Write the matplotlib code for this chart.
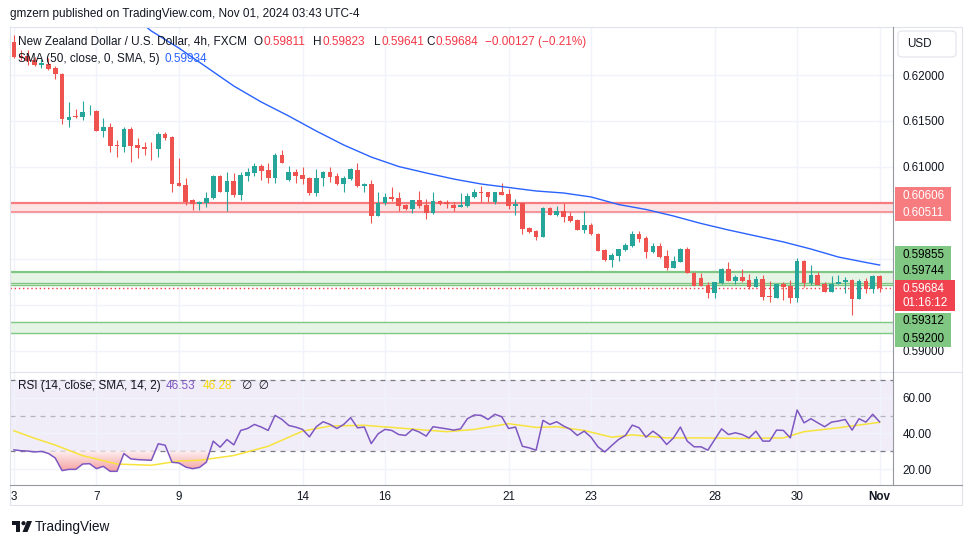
import numpy as np
import matplotlib
matplotlib.use("Agg")
import matplotlib.pyplot as plt
from matplotlib.patches import Rectangle, FancyBboxPatch, Polygon, Circle
from matplotlib.path import Path
from matplotlib.colors import LinearSegmentedColormap

plt.rcParams['font.family'] = ['Liberation Sans', 'DejaVu Sans']

# NZDUSD 4h candles, Oct 3 -> Nov 1 2024
opens = [0.62358, 0.62207, 0.62207, 0.62163, 0.62114, 0.62120, 0.62076, 0.62011, 0.61511, 0.61554,
         0.61538, 0.61609, 0.61609, 0.61394, 0.61431, 0.61239, 0.61220, 0.61413, 0.61239, 0.61220,
         0.61209, 0.61192, 0.61355, 0.61329, 0.60822, 0.60804, 0.60641, 0.60594, 0.60612, 0.60660,
         0.60902, 0.60731, 0.60848, 0.60695, 0.60905, 0.60938, 0.61011, 0.60967, 0.60883, 0.61130,
         0.60858, 0.60942, 0.60913, 0.60877, 0.60714, 0.60877, 0.60942, 0.60905, 0.60815, 0.60866,
         0.60967, 0.60796, 0.60815, 0.60467, 0.60605, 0.60677, 0.60660, 0.60587, 0.60540, 0.60641,
         0.60587, 0.60503, 0.60630, 0.60616, 0.60587, 0.60562, 0.60579, 0.60677, 0.60731, 0.60725,
         0.60616, 0.60725, 0.60706, 0.60579, 0.60605, 0.60340, 0.60304, 0.60242, 0.60557, 0.60478,
         0.60522, 0.60470, 0.60424, 0.60315, 0.60370, 0.60272, 0.60098, 0.59989, 0.60036, 0.60098,
         0.60144, 0.60272, 0.60231, 0.60079, 0.60141, 0.60032, 0.59905, 0.59970, 0.60108, 0.59851,
         0.59790, 0.59717, 0.59634, 0.59742, 0.59888, 0.59764, 0.59801, 0.59771, 0.59699, 0.59779,
         0.59598, 0.59579, 0.59728, 0.59706, 0.59573, 0.59978, 0.59736, 0.59826, 0.59728, 0.59644,
         0.59725, 0.59747, 0.59771, 0.59565, 0.59761, 0.59674, 0.59811]
highs = [0.62435, 0.62272, 0.62272, 0.62196, 0.62174, 0.62185, 0.62098, 0.62022, 0.61706, 0.61630,
         0.61717, 0.61674, 0.61619, 0.61532, 0.61481, 0.61293, 0.61431, 0.61431, 0.61315, 0.61272,
         0.61275, 0.61377, 0.61377, 0.61337, 0.61094, 0.60880, 0.60652, 0.60634, 0.60725, 0.60913,
         0.60913, 0.60949, 0.60931, 0.60949, 0.60989, 0.61040, 0.61029, 0.61040, 0.61149, 0.61185,
         0.61011, 0.60975, 0.60996, 0.60891, 0.60975, 0.60951, 0.60996, 0.60931, 0.60902, 0.60986,
         0.61046, 0.60829, 0.60858, 0.60731, 0.60714, 0.60786, 0.60731, 0.60598, 0.60641, 0.60742,
         0.60649, 0.60725, 0.60636, 0.60641, 0.60616, 0.60714, 0.60714, 0.60757, 0.60796, 0.60728,
         0.60731, 0.60822, 0.60757, 0.60649, 0.60609, 0.60351, 0.60315, 0.60568, 0.60560, 0.60576,
         0.60605, 0.60514, 0.60429, 0.60522, 0.60388, 0.60277, 0.60108, 0.60068, 0.60108, 0.60170,
         0.60304, 0.60307, 0.60250, 0.60177, 0.60170, 0.60098, 0.60032, 0.60116, 0.60127, 0.59853,
         0.59851, 0.59753, 0.59750, 0.59899, 0.59970, 0.59826, 0.59888, 0.59833, 0.59815, 0.59826,
         0.59761, 0.59733, 0.59753, 0.59771, 0.60007, 0.59989, 0.59935, 0.59862, 0.59753, 0.59815,
         0.59826, 0.59801, 0.59777, 0.59779, 0.59790, 0.59826, 0.59823]
lows = [0.62185, 0.62163, 0.62109, 0.62098, 0.62076, 0.62054, 0.61956, 0.61467, 0.61435, 0.61532,
        0.61511, 0.61565, 0.61391, 0.61329, 0.61166, 0.61112, 0.61166, 0.61057, 0.61098, 0.61130,
        0.61076, 0.61112, 0.61293, 0.60731, 0.60793, 0.60587, 0.60532, 0.60532, 0.60568, 0.60652,
        0.60723, 0.60525, 0.60677, 0.60641, 0.60851, 0.60905, 0.60858, 0.60829, 0.60829, 0.61040,
        0.60848, 0.60822, 0.60815, 0.60695, 0.60685, 0.60796, 0.60833, 0.60804, 0.60731, 0.60858,
        0.60786, 0.60725, 0.60388, 0.60462, 0.60587, 0.60634, 0.60525, 0.60532, 0.60503, 0.60551,
        0.60435, 0.60489, 0.60587, 0.60557, 0.60525, 0.60560, 0.60568, 0.60660, 0.60623, 0.60623,
        0.60594, 0.60690, 0.60540, 0.60478, 0.60272, 0.60286, 0.60206, 0.60239, 0.60473, 0.60470,
        0.60399, 0.60399, 0.60310, 0.60279, 0.60261, 0.60087, 0.59981, 0.59909, 0.59981, 0.60090,
        0.60133, 0.60181, 0.60014, 0.60062, 0.60008, 0.59880, 0.59902, 0.59967, 0.59842, 0.59706,
        0.59706, 0.59579, 0.59579, 0.59728, 0.59761, 0.59728, 0.59753, 0.59674, 0.59695, 0.59554,
        0.59536, 0.59576, 0.59554, 0.59520, 0.59536, 0.59699, 0.59717, 0.59712, 0.59641, 0.59641,
        0.59723, 0.59634, 0.59391, 0.59560, 0.59634, 0.59634, 0.59641]
closes = [0.62196, 0.62185, 0.62152, 0.62109, 0.62130, 0.62065, 0.62011, 0.61522, 0.61543, 0.61538,
          0.61598, 0.61614, 0.61394, 0.61431, 0.61231, 0.61231, 0.61413, 0.61231, 0.61209, 0.61198,
          0.61203, 0.61355, 0.61318, 0.60815, 0.60796, 0.60623, 0.60594, 0.60623, 0.60660, 0.60902,
          0.60731, 0.60848, 0.60695, 0.60913, 0.60949, 0.61011, 0.60960, 0.60883, 0.61130, 0.61046,
          0.60942, 0.60905, 0.60869, 0.60714, 0.60877, 0.60942, 0.60895, 0.60815, 0.60877, 0.60975,
          0.60793, 0.60815, 0.60467, 0.60612, 0.60677, 0.60652, 0.60576, 0.60540, 0.60641, 0.60579,
          0.60503, 0.60630, 0.60594, 0.60594, 0.60557, 0.60587, 0.60688, 0.60731, 0.60720, 0.60677,
          0.60725, 0.60695, 0.60579, 0.60598, 0.60326, 0.60296, 0.60242, 0.60557, 0.60478, 0.60522,
          0.60460, 0.60416, 0.60315, 0.60370, 0.60268, 0.60090, 0.59989, 0.60043, 0.60108, 0.60152,
          0.60272, 0.60217, 0.60079, 0.60141, 0.60025, 0.59907, 0.59978, 0.60108, 0.59844, 0.59710,
          0.59710, 0.59634, 0.59747, 0.59888, 0.59764, 0.59808, 0.59764, 0.59699, 0.59779, 0.59590,
          0.59590, 0.59728, 0.59699, 0.59573, 0.59978, 0.59736, 0.59826, 0.59717, 0.59644, 0.59728,
          0.59753, 0.59771, 0.59565, 0.59761, 0.59674, 0.59815, 0.59684]

# SMA(50) (candle index, value)
sma_idx = [18, 20, 24, 28, 32, 36, 40, 44, 48, 52, 56, 60, 64, 68, 72, 76, 80, 84, 88,
           92, 96, 100, 104, 108, 112, 116, 120, 124, 126]
sma_vals = [0.62598, 0.62478, 0.62293, 0.62087, 0.61880, 0.61706, 0.61554, 0.61391, 0.61239,
            0.61108, 0.61005, 0.60935, 0.60869, 0.60815, 0.60777, 0.60739, 0.60717, 0.60674,
            0.60592, 0.60538, 0.60467, 0.60386, 0.60315, 0.60250, 0.60185, 0.60108, 0.60021,
            0.59962, 0.59934]

rsi = [30.8, 30.3, 30.1, 29.6, 29.9, 28.8, 26.2, 19.1, 19.8, 19.8,
       22.8, 23.0, 20.2, 21.5, 18.7, 18.7, 28.7, 25.7, 25.3, 25.1,
       24.9, 34.2, 33.4, 23.8, 23.4, 21.1, 20.2, 20.9, 23.8, 35.7,
       32.3, 36.6, 33.6, 41.7, 42.8, 45.1, 43.6, 41.7, 50.2, 47.9,
       44.5, 43.6, 42.3, 38.1, 43.8, 46.6, 45.1, 42.8, 45.1, 48.9,
       43.2, 43.6, 34.3, 39.8, 42.3, 41.7, 39.4, 38.9, 42.3, 40.8,
       38.5, 43.8, 43.2, 42.6, 41.9, 42.6, 48.3, 50.4, 50.2, 47.9,
       50.8, 49.4, 42.8, 43.6, 32.8, 31.9, 30.6, 47.4, 45.1, 46.6,
       44.2, 42.3, 38.9, 41.3, 37.9, 32.5, 29.6, 33.2, 36.6, 38.9,
       44.7, 43.2, 37.9, 41.3, 38.5, 33.8, 37.5, 43.6, 35.7, 32.5,
       32.5, 30.6, 36.6, 42.6, 39.4, 40.4, 39.4, 37.5, 41.3, 35.7,
       35.7, 41.9, 41.7, 37.5, 53.2, 46.0, 48.3, 46.0, 43.8, 46.4,
       47.0, 47.9, 41.9, 48.3, 46.4, 50.8, 46.53]

rsi_sma_idx = [0, 3, 6, 10, 15, 20, 24, 27, 32, 37, 42, 46, 51, 58, 63, 67, 72, 76, 79,
               83, 87, 90, 95, 101, 106, 112, 115, 120, 126]
rsi_sma_vals = [41.5, 37.3, 33.5, 27.5, 22.8, 22.1, 24.5, 24.9, 27.6, 32.8, 41.3, 44.2, 44.6,
                42.5, 41.0, 42.3, 45.5, 43.4, 43.8, 41.7, 37.9, 39.2, 37.5, 37.5, 37.2, 37.5,
                41.0, 43.2, 46.28]

day_ticks = [0, 12, 24, 42, 54, 72, 84, 102, 114, 126]
day_labels = ['3', '7', '9', '14', '16', '21', '23', '28', '30', 'Nov']
price_ticks = [0.590, 0.595, 0.600, 0.605, 0.610, 0.615, 0.620]
# labels hidden behind the price-scale boxes in the original
price_labels = ['0.59000', '', '', '', '0.61000', '0.61500', '0.62000']

resist_zone = (0.60511, 0.60606)
support_zone = (0.59715, 0.59744, 0.59855)
support_zone2 = (0.59200, 0.59312)
last_price = 0.59684

UP = '#26a69a'
DOWN = '#ef5350'
TXT = '#131722'
GRID = '#f0f3fa'

W, H = 970, 545
fig = plt.figure(figsize=(W / 100, H / 100), dpi=100)
fig.patch.set_facecolor('white')

ax = fig.add_axes([10 / W, 1 - 372 / H, 883 / W, 344 / H])
ax2 = fig.add_axes([10 / W, 1 - 485 / H, 883 / W, 113 / H])

o = np.array(opens)
h = np.array(highs)
l = np.array(lows)
c = np.array(closes)
x = np.arange(len(c))
cols = [UP if cc >= oo else DOWN for oo, cc in zip(o, c)]

# zones
ax.axhspan(resist_zone[0], resist_zone[1], color='#fde4e4', lw=0, zorder=1)
ax.axhline(resist_zone[1], color='#f77c80', lw=1.6, zorder=2)
ax.axhline(resist_zone[0], color='#f77c80', lw=1.1, zorder=2)
ax.axhspan(support_zone[0], support_zone[2], color='#e6f4e6', lw=0, zorder=1)
ax.axhline(support_zone[2], color='#81c784', lw=1.6, zorder=2)
ax.axhline(support_zone[1], color='#81c784', lw=1.0, zorder=2)
ax.axhline(support_zone[0], color='#81c784', lw=1.0, zorder=2)
ax.axhspan(support_zone2[0], support_zone2[1], color='#e6f4e6', lw=0, zorder=1)
ax.axhline(support_zone2[1], color='#81c784', lw=1.0, zorder=2)
ax.axhline(support_zone2[0], color='#81c784', lw=1.0, zorder=2)

ax.axhline(last_price, color='#f23645', lw=1.0, ls=(0, (1, 2)), zorder=2)

# candles
ax.vlines(x, l, h, colors=cols, lw=0.8, zorder=3)
ax.bar(x, np.maximum(np.abs(c - o), 0.00003), bottom=np.minimum(o, c), width=0.68,
       color=cols, lw=0, zorder=4)

ax.plot(sma_idx, sma_vals, color='#2962ff', lw=1.0, zorder=5)

ax.set_xlim(-0.58, 127.95)
ax.set_ylim(0.58771, 0.62511)
ax.yaxis.tick_right()
ax.set_yticks(price_ticks)
ax.set_yticklabels(price_labels)
ax.set_xticks(day_ticks)
ax.set_xticklabels([])
ax.tick_params(axis='both', length=0)
ax.tick_params(axis='y', pad=7, labelsize=8.4, labelcolor=TXT)
ax.grid(color=GRID, lw=1)
ax.set_axisbelow(True)
for s in ax.spines.values():
    s.set_visible(False)

# RSI pane
r = np.array(rsi)
ax2.axhspan(30, 70, color='#7e57c2', alpha=0.1, lw=0, zorder=0.5)
ax2.axhline(70, color='#787b86', lw=0.9, ls=(0, (4, 4)), zorder=1)
ax2.axhline(30, color='#787b86', lw=0.9, ls=(0, (4, 4)), zorder=1)
ax2.axhline(50, color='#787b86', alpha=0.5, lw=0.9, ls=(0, (4, 4)), zorder=1)

fb = ax2.fill_between(x, r, 30, where=r < 30, interpolate=True, color='none', lw=0)
clip = Path.make_compound_path(*fb.get_paths())
grad = np.linspace(0, 1, 100).reshape(-1, 1)
cmap = LinearSegmentedColormap.from_list('os', ['#f48f8f', '#fdeeee'])
im = ax2.imshow(grad, extent=[-1, 128, 16, 30], origin='lower', aspect='auto',
                cmap=cmap, zorder=1.5)
im.set_clip_path(clip, transform=ax2.transData)

ax2.plot(x, r, color='#7e57c2', lw=1.1, zorder=3)
ax2.plot(rsi_sma_idx, rsi_sma_vals, color='#f7e33c', lw=1.1, zorder=2.5)

ax2.set_xlim(-0.58, 127.95)
ax2.set_ylim(11, 74.6)
ax2.yaxis.tick_right()
ax2.set_yticks([20, 40, 60])
ax2.set_yticklabels(['20.00', '40.00', '60.00'])
ax2.set_xticks(day_ticks)
ax2.set_xticklabels(day_labels)
ax2.tick_params(axis='both', length=0, labelsize=8.4, labelcolor=TXT)
ax2.tick_params(axis='y', pad=7)
ax2.tick_params(axis='x', pad=4)
ax2.get_xticklabels()[-1].set_fontweight('bold')
ax2.grid(color=GRID, lw=1)
ax2.set_axisbelow(True)
for s in ax2.spines.values():
    s.set_visible(False)

# overlay in pixel coordinates for frame, labels and legends
ov = fig.add_axes([0, 0, 1, 1])
ov.set_xlim(0, W)
ov.set_ylim(H, 0)
ov.axis('off')
ov.patch.set_alpha(0)

ov.plot([10, 962, 962, 10, 10], [27, 27, 505, 505, 27], color='#e0e3eb', lw=0.8)
ov.plot([10, 962], [372, 372], color='#e0e3eb', lw=0.8)
ov.plot([893, 893], [27, 485], color='#9598a1', lw=0.8)
ov.plot([10, 962], [485, 485], color='#9598a1', lw=0.8)

ov.text(10, 14, 'gmzern published on TradingView.com, Nov 01, 2024 03:43 UTC-4',
        fontsize=8.5, color=TXT, va='center')

# legend rows
ov.text(18, 42, 'New Zealand Dollar / U.S. Dollar, 4h, FXCM', fontsize=8.5, color=TXT, va='center')
for lab, lx, val, vx in [('O', 254, '0.59811', 264), ('H', 313, '0.59823', 323),
                         ('L', 374, '0.59641', 382), ('C', 426, '0.59684', 436)]:
    ov.text(lx, 42, lab, fontsize=8.5, color=TXT, va='center')
    ov.text(vx, 42, val, fontsize=8.5, color='#f23645', va='center')
ov.text(485, 42, '\u22120.00127 (\u22120.21%)', fontsize=8.5, color='#f23645', va='center')
ov.text(18, 59, 'SMA (50, close, 0, SMA, 5)', fontsize=8.5, color=TXT, va='center')
ov.text(165, 59, '0.59934', fontsize=8.5, color='#2962ff', va='center')
ov.text(18, 386, 'RSI (14, close, SMA, 14, 2)', fontsize=8.5, color=TXT, va='center')
ov.text(166, 386, '46.53', fontsize=8.5, color='#7e57c2', va='center')
ov.text(203, 386, '46.28', fontsize=8.5, color='#f5d90a', va='center')
ov.text(242, 386, '\u2205  \u2205', fontsize=8.5, color=TXT, va='center')

# price scale boxes
boxes = [((895, 187), 56, 34, '#f77c80', 'white', [('0.60606', 196), ('0.60511', 212.5)]),
         ((895, 246), 56, 34, '#81c784', 'black', [('0.59855', 255), ('0.59744', 271.5)]),
         ((895, 280), 60, 31, '#f0434f', 'white', [('0.59684', 288.5), ('01:16:12', 302.5)]),
         ((895, 313), 56, 34, '#81c784', 'black', [('0.59312', 321.5), ('0.59200', 338.5)])]
for (bx, by), bw, bh, fc, tc, rows in boxes:
    ov.add_patch(Rectangle((bx, by), bw, bh, fc=fc, ec='none', zorder=5))
    for t, ty in rows:
        ov.text(bx + 8, ty, t, fontsize=8.4, color=tc, va='center', zorder=6)

ov.add_patch(FancyBboxPatch((898, 31), 58, 26, boxstyle='round,pad=0,rounding_size=4',
                            fc='white', ec='#e0e3eb', lw=0.8, zorder=5))
ov.text(907, 44, 'USD', fontsize=8.4, color=TXT, va='center', zorder=6)

# footer logo
ov.add_patch(Rectangle((12, 521), 8, 4, fc=TXT, ec='none'))
ov.add_patch(Rectangle((16, 521), 4, 11, fc=TXT, ec='none'))
ov.add_patch(Circle((23.5, 523.2), 2.1, fc=TXT, ec='none'))
ov.add_patch(Polygon([(27, 521), (32, 521), (27.5, 532), (22.5, 532)], closed=True, fc=TXT, ec='none'))
ov.text(35, 527, 'TradingView', fontsize=9.8, color=TXT, va='center')

fig.savefig('out.png', dpi=100, facecolor='white')
